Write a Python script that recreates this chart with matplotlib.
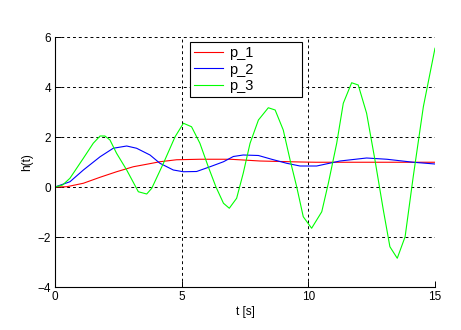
import matplotlib
matplotlib.use('Agg')
import matplotlib.pyplot as plt

plt.rcParams['font.family'] = ['Liberation Sans', 'DejaVu Sans']

# p_1 (red)
t1 = [0, 0.46, 1.12, 1.78, 2.43, 3.09, 3.62, 4.14, 4.8, 5.72, 6.91, 7.43, 8.09, 8.9, 9.7, 10.3, 12.0, 15.0]
h1 = [0, 0.01, 0.15, 0.39, 0.61, 0.81, 0.91, 1.01, 1.09, 1.11, 1.11, 1.08, 1.04, 1.02, 1.0, 0.99, 0.99, 0.99]

# p_2 (blue)
t2 = [0, 0.59, 1.12, 1.78, 2.3, 2.83, 3.22, 3.75, 4.14, 4.67, 5.07, 5.59, 6.12, 6.65, 7.04, 7.43,
      8.03, 8.55, 9.14, 9.67, 10.33, 11.25, 12.3, 13.1, 14.14, 15.0]
h2 = [0, 0.21, 0.68, 1.21, 1.55, 1.64, 1.55, 1.28, 0.95, 0.68, 0.61, 0.62, 0.81, 1.01, 1.22, 1.28,
      1.26, 1.11, 0.95, 0.84, 0.84, 1.04, 1.16, 1.11, 0.99, 0.92]

# p_3 (green)
t3 = [0, 0.3, 0.59, 1.12, 1.51, 1.78, 1.97, 2.17, 2.43, 2.83, 3.29, 3.62, 3.82, 4.28, 4.74, 5.07,
      5.39, 5.72, 6.05, 6.35, 6.65, 6.88, 7.17, 7.43, 7.7, 8.03, 8.42, 8.69, 9.01, 9.28, 9.54,
      9.80, 10.13, 10.53, 10.79, 11.12, 11.38, 11.71, 11.97, 12.3, 12.63, 12.96, 13.22, 13.51,
      13.82, 14.14, 14.54, 15.0]
h3 = [0, 0.08, 0.35, 1.15, 1.75, 2.04, 2.04, 1.88, 1.35, 0.68, -0.19, -0.28, -0.05, 0.95, 2.01, 2.55,
      2.41, 1.75, 0.81, 0.01, -0.65, -0.85, -0.45, 0.55, 1.75, 2.68, 3.17, 3.08, 2.28, 1.08, 0.01,
      -1.19, -1.65, -0.99, 0.15, 1.75, 3.35, 4.17, 4.08, 2.95, 1.08, -0.92, -2.39, -2.85,
      -1.99, 0.41, 3.21, 5.55]

xticks = [0, 5, 10, 15]
yticks = [-4, -2, 0, 2, 4, 6]

fig = plt.figure(figsize=(4.61, 3.30), dpi=100)
ax = fig.add_axes([55/461, 1 - 287/330, 380/461, 250/330])

ax.plot(t1, h1, color='#ff0000', lw=0.8, label='p_1')
ax.plot(t2, h2, color='#0000ff', lw=0.8, label='p_2')
ax.plot(t3, h3, color='#00ff00', lw=0.8, label='p_3')

ax.set_xlim(0, 15)
ax.set_ylim(-4, 6)
ax.set_xticks(xticks)
ax.set_yticks(yticks)
ax.grid(True, color='k', linestyle=(0, (3, 3)), linewidth=0.7)
ax.tick_params(direction='in', length=4, width=0.7, labelsize=8.5, pad=3)
for s in ['top', 'right']:
    ax.spines[s].set_visible(False)
for s in ['left', 'bottom']:
    ax.spines[s].set_linewidth(0.8)

ax.set_xlabel('t [s]', fontsize=8.5, labelpad=2)
ax.set_ylabel('h(t)', fontsize=8.5, labelpad=3)

leg = ax.legend(loc='upper left', bbox_to_anchor=(0.355, 0.78, 0.295, 0.2), mode='expand',
                fancybox=False, edgecolor='k', framealpha=1, fontsize=10.5,
                handlelength=2.0, handletextpad=0.4, labelspacing=0.15, borderaxespad=0,
                borderpad=0.3)
leg.get_frame().set_linewidth(0.8)

fig.savefig('out.png', dpi=100)
